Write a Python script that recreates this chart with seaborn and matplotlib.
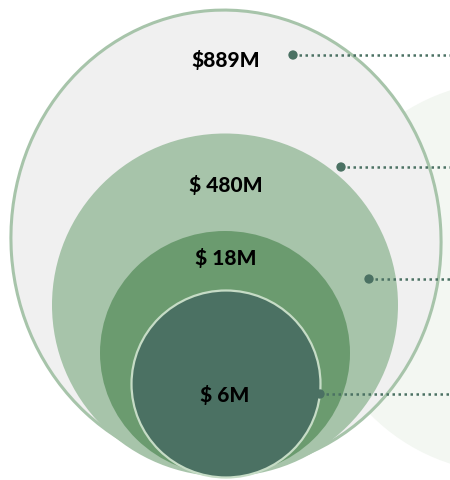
import matplotlib
matplotlib.use("Agg")
import matplotlib.pyplot as plt
from matplotlib.patches import Ellipse
import seaborn as sns
import pandas as pd

# market size values, outer ring to inner circle
labels = ["$889M", "$ 480M", "$ 18M", "$ 6M"]
values = [889, 480, 18, 6]

# layout in pixel units (x, y centre, width, height)
ring_cx = [226, 225, 225, 226]
ring_cy = [241, 306, 354, 385]
ring_w = [430, 346, 250, 189]
ring_h = [460, 343, 244, 187]
label_x = [226, 226, 226, 225]
label_y = [60, 185, 258, 395]
dot_x = [293, 341, 369, 320]
dot_y = [56, 168, 280, 395]

fills = ["#f0f0f0", "#a7c4aa", "#6b9b6f", "#4b7163"]
edges = ["#a7c4aa", "none", "none", "#c6dcc6"]
dark = "#4b7163"

sns.set_theme(style="white")
plt.rcParams["font.family"] = ["Lato", "DejaVu Sans"]

fig = plt.figure(figsize=(4.5, 4.81), dpi=100)
ax = fig.add_axes([0, 0, 1, 1])

# pale background circle on the right
ax.add_patch(Ellipse((510, 278), 392, 392, facecolor="#f3f7f2", edgecolor="none", zorder=0))

for i in range(len(values)):
    lw = 2.2 if i == 0 else (1.6 if edges[i] != "none" else 0)
    ax.add_patch(Ellipse((ring_cx[i], ring_cy[i]), ring_w[i], ring_h[i], angle=-4 if i == 0 else 0,
                         facecolor=fills[i], edgecolor=edges[i], linewidth=lw, zorder=1 + i))
    ax.text(label_x[i], label_y[i], labels[i], ha="center", va="center",
            fontsize=15, fontweight="black", color="black", zorder=10)
    ax.plot([dot_x[i], 450], [dot_y[i], dot_y[i]], color=dark, linewidth=1.8,
            linestyle=(0, (1, 1.4)), zorder=8)

df = pd.DataFrame({"x": dot_x, "y": dot_y, "value": values})
sns.scatterplot(data=df, x="x", y="y", color=dark, s=45, edgecolor="none", ax=ax, zorder=9)
ax.set_xlim(0, 450)
ax.set_ylim(481, 0)
ax.set_aspect("equal")
ax.axis("off")

fig.savefig("out.png", dpi=100)
